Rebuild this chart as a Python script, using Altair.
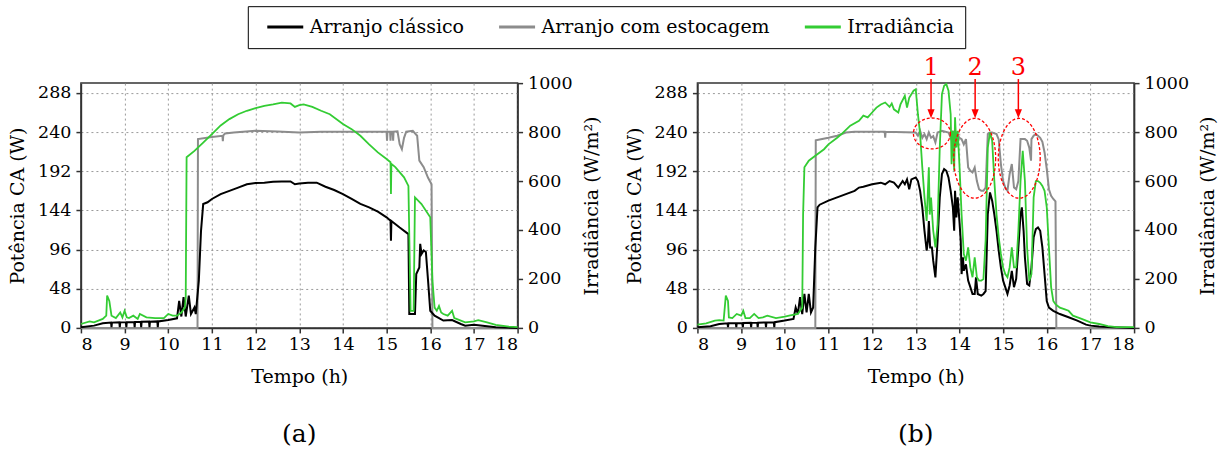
import math
import altair as alt
import pandas as pd

# ---------------- data ----------------
# Panel (a)
A_IR_T = [8.0, 8.2, 8.3, 8.5, 8.58, 8.6, 8.65, 8.7, 8.8, 8.9, 8.95, 9.0, 9.05, 9.1, 9.2, 9.3, 9.35, 9.5, 9.7, 9.9,
          10.0, 10.1, 10.2, 10.3, 10.38, 10.4, 10.42, 10.6, 10.8, 11.0, 11.2, 11.4, 11.6, 11.8, 12.0, 12.2, 12.4, 12.6,
          12.8, 12.9, 13.0, 13.1, 13.3, 13.5, 13.7, 14.0, 14.2, 14.4, 14.6, 14.8, 15.0, 15.09, 15.1, 15.11, 15.2, 15.4,
          15.5, 15.55, 15.62, 15.65, 15.8, 16.0, 16.05, 16.1, 16.15, 16.2, 16.25, 16.3, 16.4, 16.5, 16.55, 16.6, 16.8,
          17.0, 17.1, 17.3, 17.5, 17.8, 18.0]
A_IR = [16, 27, 23, 37, 50, 132, 110, 50, 40, 63, 43, 70, 43, 40, 50, 37, 57, 43, 40, 40,
        57, 50, 50, 63, 83, 123, 697, 723, 757, 792, 827, 853, 873, 887, 898, 907, 913, 920,
        917, 903, 910, 913, 903, 887, 873, 833, 812, 785, 750, 717, 690, 677, 547, 670, 657, 615,
        580, 70, 70, 533, 506, 452, 193, 83, 70, 90, 63, 57, 50, 70, 40, 37, 23,
        27, 32, 23, 12, 5, 3]

A_CL_T = [8.0, 8.3, 8.5, 8.69, 8.7, 8.71, 8.88, 8.89, 8.9, 9.03, 9.04, 9.05, 9.22, 9.23, 9.24, 9.37, 9.38, 9.39,
          9.56, 9.57, 9.58, 9.75, 9.76, 9.77, 10.0, 10.2, 10.25, 10.3, 10.35, 10.4, 10.47, 10.52, 10.6, 10.63, 10.7,
          10.75, 10.8, 10.9, 11.0, 11.2, 11.4, 11.6, 11.8, 12.0, 12.2, 12.4, 12.6, 12.8, 12.9, 13.0, 13.2, 13.4, 13.6,
          13.8, 14.0, 14.2, 14.4, 14.6, 14.8, 15.0, 15.09, 15.1, 15.11, 15.3, 15.5, 15.52, 15.65, 15.68, 15.75, 15.77,
          15.8, 15.85, 15.9, 15.95, 16.0, 16.1, 16.3, 16.5, 16.7, 16.8, 17.0, 17.2, 17.5, 18.0]
A_CL = [0.8, 2.8, 5.7, 6.5, 1, 6.5, 6.8, 1, 6.8, 7, 1, 7, 7.3, 1, 7.3, 7.5, 1, 7.5,
        7.7, 1, 7.7, 8, 1, 8, 9.8, 11.8, 33, 14, 37.6, 14, 39.5, 17, 25, 17, 58,
        119, 151.8, 154, 158, 164, 168, 172, 176, 177.5, 178, 179, 179.5, 179.5, 176, 177, 178, 178, 173,
        169, 164, 158, 152, 147.7, 142.4, 135.5, 131.4, 107, 131, 123, 115, 17, 17, 66, 74, 103,
        90.6, 95, 93, 58, 21, 15, 9, 9.7, 4.8, 2.8, 4, 2.8, 0.8, 0]

A_ST_T = [8.0, 10.67, 10.68, 11.0, 11.24, 11.25, 11.26, 11.3, 11.5, 12.0, 12.5, 13.0, 13.5, 14.0, 14.5, 15.0, 15.01,
          15.02, 15.08, 15.09, 15.1, 15.14, 15.15, 15.16, 15.25, 15.3, 15.35, 15.4, 15.45, 15.6, 15.7, 15.75, 15.85,
          15.95, 16.03, 16.05, 18.0]
A_ST = [0, 0, 231.4, 234, 235.5, 229, 236, 238.3, 239.5, 241.6, 240.8, 239.5, 240.4, 240.4, 240.4, 240.4, 229.3,
        240.4, 240.4, 229.3, 240.4, 240.4, 229.3, 240.4, 241, 225, 219, 233, 240.4, 241.6, 235.5, 205, 197,
        184, 176, 0, 0]

# Panel (b)
B_IR_T = [8.0, 8.2, 8.4, 8.5, 8.6, 8.65, 8.7, 8.72, 8.8, 8.9, 9.0, 9.05, 9.1, 9.2, 9.3, 9.4, 9.5, 9.6, 9.8, 10.0,
          10.1, 10.3, 10.4, 10.42, 10.45, 10.55, 10.7, 10.9, 11.0, 11.2, 11.3, 11.5, 11.7, 11.8, 11.9, 12.0, 12.1, 12.2,
          12.3, 12.4, 12.45, 12.5, 12.6, 12.65, 12.75, 12.8, 12.85, 12.95, 13.0, 13.05, 13.1, 13.15, 13.2, 13.25, 13.3,
          13.32, 13.35, 13.4, 13.45, 13.5, 13.55, 13.6, 13.65, 13.7, 13.75, 13.8, 13.82, 13.85, 13.88, 13.9, 13.93,
          13.96, 14.0, 14.05, 14.1, 14.15, 14.2, 14.25, 14.3, 14.35, 14.4, 14.45, 14.5, 14.55, 14.6, 14.65, 14.7,
          14.75, 14.8, 14.85, 14.9, 14.95, 15.0, 15.05, 15.1, 15.15, 15.2, 15.25, 15.3, 15.35, 15.4, 15.45, 15.5,
          15.55, 15.6, 15.65, 15.7, 15.75, 15.8, 15.85, 15.9, 15.95, 16.0, 16.05, 16.1, 16.15, 16.2, 16.3, 16.4, 16.5,
          16.6, 16.8, 17.0, 17.2, 17.4, 17.6, 18.0]
B_IR = [13, 19, 30, 32, 30, 132, 110, 43, 40, 57, 50, 70, 40, 40, 57, 40, 43, 50, 40, 46,
        50, 57, 83, 463, 656, 683, 703, 730, 750, 777, 792, 826, 846, 867, 860, 880, 900, 913,
        921, 903, 917, 893, 880, 913, 948, 900, 940, 969, 975, 873, 792, 656, 533, 437, 656,
        463, 533, 397, 329, 423, 737, 955, 989, 996, 969, 873, 669, 805, 642, 860, 737,
        805, 669, 463, 302, 275, 329, 247, 207, 288, 207, 193, 193, 200, 357, 737, 798,
        764, 600, 463, 370, 302, 247, 220, 207, 247, 329, 247, 247, 397, 600, 723, 600,
        329, 193, 220, 533, 600, 600, 593, 580, 560, 493, 329, 167, 110, 97, 83, 77, 70,
        50, 37, 23, 16, 7, 3, 3]

B_CL_T = [8.0, 8.3, 8.5, 8.69, 8.7, 8.71, 8.88, 8.89, 8.9, 9.03, 9.04, 9.05, 9.22, 9.23, 9.24, 9.37, 9.38, 9.39,
          9.56, 9.57, 9.58, 9.75, 9.76, 9.77, 10.0, 10.2, 10.25, 10.3, 10.35, 10.4, 10.45, 10.5, 10.55, 10.6, 10.65,
          10.7, 10.75, 10.8, 11.0, 11.2, 11.4, 11.6, 11.7, 11.8, 12.0, 12.2, 12.3, 12.4, 12.5, 12.6, 12.7, 12.75, 12.8,
          12.85, 12.9, 13.0, 13.05, 13.1, 13.15, 13.2, 13.25, 13.28, 13.3, 13.33, 13.37, 13.4, 13.45, 13.5, 13.55,
          13.6, 13.65, 13.7, 13.75, 13.8, 13.85, 13.88, 13.9, 13.93, 13.96, 14.0, 14.03, 14.05, 14.08, 14.1, 14.15,
          14.2, 14.25, 14.3, 14.35, 14.38, 14.42, 14.5, 14.55, 14.6, 14.65, 14.7, 14.75, 14.8, 14.85, 14.9, 14.95,
          15.0, 15.05, 15.1, 15.15, 15.2, 15.25, 15.3, 15.35, 15.4, 15.43, 15.47, 15.5, 15.55, 15.6, 15.65, 15.7,
          15.75, 15.8, 15.85, 15.9, 15.95, 16.0, 16.05, 16.15, 16.3, 16.5, 16.7, 16.9, 17.0, 17.2, 17.5, 18.0]
B_CL = [0.8, 2, 4.8, 5.7, 1, 5.7, 5.8, 1, 5.8, 6, 1, 6, 6.2, 1, 6.2, 6.4, 1, 6.4,
        6.6, 1, 6.6, 7, 1, 7, 9, 11, 25, 17, 37.6, 17, 41.6, 19, 41.6, 19, 25,
        98.7, 147.7, 151, 156, 160, 164, 168, 172, 173, 176, 178, 176, 180, 178, 172, 180, 176, 182,
        170, 182, 184.4, 180, 168, 147.7, 119, 94.6, 107, 131, 98.7, 98.7, 82.4, 62, 107, 160,
        188.5, 194.6, 192.6, 184.4, 168, 147.7, 119, 168, 135.5, 160, 131, 107, 66, 86.5, 70, 78,
        58, 50, 41.6, 41.6, 62, 41.6, 39.5, 41.6, 45, 139.5, 166, 156, 139, 119, 94.6, 74.2,
        58, 50, 41.6, 52, 70, 50, 60, 98.7, 139.5, 147.7, 119, 86.5, 54, 52, 74, 111,
        121, 123, 119, 98.7, 66, 33, 25, 21, 17, 13, 9, 4, 2.8, 1.6, 0.8, 0]

B_ST_T = [8.0, 10.7, 10.71, 10.8, 11.0, 11.2, 11.4, 11.6, 12.0, 12.29, 12.3, 12.31, 13.0, 13.05, 13.1, 13.15, 13.2,
          13.25, 13.3, 13.35, 13.4, 13.45, 13.5, 13.6, 13.75, 13.8, 13.85, 13.9, 13.95, 14.0, 14.05, 14.1, 14.15,
          14.2, 14.25, 14.3, 14.35, 14.4, 14.45, 14.5, 14.55, 14.6, 14.65, 14.7, 14.75, 14.85, 14.9, 14.95, 15.0,
          15.05, 15.1, 15.15, 15.2, 15.25, 15.3, 15.35, 15.4, 15.45, 15.5, 15.55, 15.6, 15.64, 15.65, 15.7, 15.75,
          15.8, 15.85, 15.9, 15.95, 16.0, 16.05, 16.1, 16.15, 16.2, 16.22, 18.0]
B_ST = [0, 0, 230, 231, 233, 235.5, 239.5, 240.4, 240.4, 240.4, 233, 240.4, 239.5, 235.5, 241.6, 233, 237.5,
        231.4, 239.5, 233, 235, 227.3, 239.5, 241.6, 239.5, 233, 241.6, 221, 237.5, 233, 231.4, 225, 231.4,
        196.7, 192.6, 190.6, 196.7, 180, 170, 168, 168, 172, 237.5, 239.5, 239.5, 237.5, 231, 200.8, 180,
        172, 168, 188.5, 200.8, 172, 170, 180, 231.4, 231.4, 231.4, 229.3, 221, 205, 231.4, 235.5, 237.5,
        235.5, 233, 228, 215, 195, 170, 162, 158, 155, 0, 0]

# annotations of panel (b): circled regions (centre, in h and W) and numbered arrows
ELL_X = [13.37, 14.35, 15.37]
ELL_Y = [238.3, 207.9, 207.9]
ANN_X = [13.35, 14.36, 15.35]
ANN_LABEL = ["1", "2", "3"]
ANN_TEXT_Y = [310, 310, 310]
ANN_TOP_Y = [305, 305, 305]
ANN_TIP_Y = [262.5, 262.5, 262.5]

SERIES = ["Arranjo clássico", "Arranjo com estocagem", "Irradiância"]
COLORS = ["#000000", "#8c8c8c", "#33cc33"]
HOURS = list(range(8, 19))
P_TICKS = [0, 48, 96, 144, 192, 240, 288]
IR_TICKS = [0, 200, 400, 600, 800, 1000]

FONT = "DejaVu Serif"
PW, PH = 437, 245


def frame(t, v, name):
    return pd.DataFrame({"t": t, "v": v, "s": name, "o": list(range(len(t)))})


def ellipse_path(rx, ry, n=60):
    pts = []
    for k in range(n):
        a = 2 * math.pi * k / n
        pts.append(f"{rx * math.cos(a):.4f},{ry * math.sin(a):.4f}")
    return "M" + " L".join(pts) + " Z"


color_scale = alt.Scale(domain=SERIES, range=COLORS)
legend = alt.Legend(orient="none", legendX=167, legendY=-77, direction="horizontal", title=None,
                    labelLimit=400)

x_enc = alt.X("t:Q", scale=alt.Scale(domain=[8, 18], nice=False, zero=False),
              axis=alt.Axis(values=HOURS, format="d", title="Tempo (h)", grid=True,
                            labelPadding=3, titlePadding=14))
y_left = alt.Y("v:Q", scale=alt.Scale(domain=[0, 300], nice=False),
               axis=alt.Axis(values=P_TICKS, title="Potência CA (W)", grid=True, orient="left",
                             labelPadding=5, titlePadding=10))
y_right = alt.Y("v:Q", scale=alt.Scale(domain=[0, 1000], nice=False),
                axis=alt.Axis(values=IR_TICKS, format="d", title="Irradiância (W/m²)", grid=False,
                              orient="right", labelPadding=5, titlePadding=10,
                              titleAngle=270, titleBaseline="top"))
y_ann = alt.Y("v:Q", scale=alt.Scale(domain=[0, 300], nice=False), axis=None)


def series_line(df, yenc, width):
    return alt.Chart(df).mark_line(strokeWidth=width).encode(
        x=x_enc, y=yenc,
        color=alt.Color("s:N", scale=color_scale, legend=legend),
        order=alt.Order("o:Q"),
    )


def panel(ir_t, ir, cl_t, cl, st_t, st, label, annotate):
    power = alt.layer(
        series_line(frame(st_t, st, SERIES[1]), y_left, 2),
        series_line(frame(cl_t, cl, SERIES[0]), y_left, 2),
    )
    irr = series_line(frame(ir_t, ir, SERIES[2]), y_right, 1.8)
    layers = [power, irr]
    if annotate:
        ell_df = pd.DataFrame({"t": ELL_X, "v": ELL_Y})
        ann_df = pd.DataFrame({"t": ANN_X, "v": ANN_TEXT_Y, "v2": ANN_TOP_Y, "tip": ANN_TIP_Y,
                               "lab": ANN_LABEL})
        e1 = alt.Chart(ell_df.iloc[[0]]).mark_point(
            shape=ellipse_path(1.0, 31 / 37), size=37 * 37, filled=False, color="red",
            strokeWidth=1.3, strokeDash=[3, 2], opacity=1).encode(x=x_enc, y=y_ann)
        e2 = alt.Chart(ell_df.iloc[[1, 2]]).mark_point(
            shape=ellipse_path(42 / 80, 1.0), size=80 * 80, filled=False, color="red",
            strokeWidth=1.3, strokeDash=[3, 2], opacity=1).encode(x=x_enc, y=y_ann)
        rules = alt.Chart(ann_df).mark_rule(color="red", strokeWidth=1.5).encode(
            x=x_enc, y=alt.Y("v2:Q", scale=alt.Scale(domain=[0, 300], nice=False), axis=None),
            y2=alt.Y2("tip:Q"))
        heads = alt.Chart(ann_df).mark_point(
            shape="M-0.8,-1 L0.8,-1 L0,1 Z", size=81, filled=True, color="red", opacity=1).encode(
            x=x_enc, y=alt.Y("tip:Q", scale=alt.Scale(domain=[0, 300], nice=False), axis=None))
        texts = alt.Chart(ann_df).mark_text(
            color="red", font=FONT, fontSize=24, baseline="alphabetic", align="center").encode(
            x=x_enc, y=y_ann, text="lab:N")
        layers.append(alt.layer(e1, e2, rules, heads, texts))
    return alt.layer(*layers).resolve_scale(y="independent").properties(
        width=PW, height=PH,
        title=alt.TitleParams(label, orient="bottom", fontSize=25, font=FONT, fontWeight="normal",
                              offset=36, anchor="middle"),
    )


pa = panel(A_IR_T, A_IR, A_CL_T, A_CL, A_ST_T, A_ST, "(a)", False)
pb = panel(B_IR_T, B_IR, B_CL_T, B_CL, B_ST_T, B_ST, "(b)", True)

chart = alt.hconcat(pa, pb, spacing=180, bounds="flush").properties(
    padding={"left": 7, "top": 5, "right": 5, "bottom": 5},
    background="white",
).configure_view(stroke="#333333", strokeWidth=1.5).configure_axis(
    labelFont=FONT, labelFontSize=17.5, labelColor="black",
    titleFont=FONT, titleFontSize=19, titleFontWeight="normal", titleColor="black",
    domainColor="#333333", domainWidth=1.5, tickColor="#333333", tickWidth=1.5, tickSize=5,
    gridColor="#9a9a9a", gridDash=[2, 3], gridWidth=1,
).configure_legend(
    labelFont=FONT, labelFontSize=19, labelColor="black",
    symbolType="M-0.143,0 L5,0", symbolSize=196, symbolStrokeWidth=3,
    labelOffset=32, columnPadding=26, padding=11, strokeColor="black",
)

chart.save("out.html", embed_options={"renderer": "svg", "actions": False})
